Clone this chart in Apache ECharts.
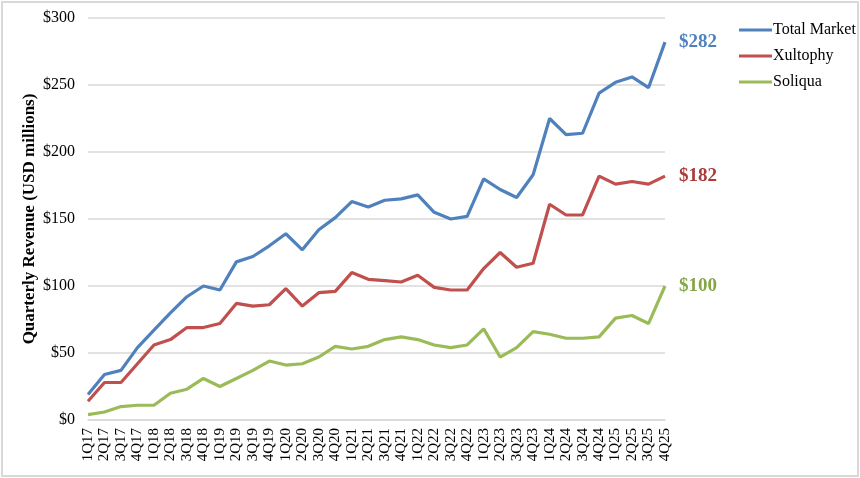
<!DOCTYPE html>
<html>
<head>
<meta charset="utf-8">
<script src="https://cdn.jsdelivr.net/npm/echarts@6/dist/echarts.min.js"></script>
<style>
  html, body { margin: 0; padding: 0; background: #fff; }
  #frame { position: absolute; left: 1px; top: 1px; width: 854px; height: 472px; border: 2px solid #d9d9d9; }
  #chart { position: absolute; left: 0; top: 0; width: 860px; height: 478px; }
</style>
</head>
<body>
<div id="frame"></div>
<div id="chart"></div>
<script>
// 季度
var quarters = ['1Q17','2Q17','3Q17','4Q17','1Q18','2Q18','3Q18','4Q18','1Q19','2Q19','3Q19','4Q19',
    '1Q20','2Q20','3Q20','4Q20','1Q21','2Q21','3Q21','4Q21','1Q22','2Q22','3Q22','4Q22',
    '1Q23','2Q23','3Q23','4Q23','1Q24','2Q24','3Q24','4Q24','1Q25','2Q25','3Q25','4Q25'];

var totalMarket = [19, 34, 37, 54, 67, 80, 92, 100, 97, 118, 122, 130,
    139, 127, 142, 151, 163, 159, 164, 165, 168, 155, 150, 152,
    180, 172, 166, 183, 225, 213, 214, 244, 252, 256, 248, 282];

var xultophy = [14, 28, 28, 42, 56, 60, 69, 69, 72, 87, 85, 86,
    98, 85, 95, 96, 110, 105, 104, 103, 108, 99, 97, 97,
    113, 125, 114, 117, 161, 153, 153, 182, 176, 178, 176, 182];

var soliqua = [4, 6, 10, 11, 11, 20, 23, 31, 25, 31, 37, 44,
    41, 42, 47, 55, 53, 55, 60, 62, 60, 56, 54, 56,
    68, 47, 54, 66, 64, 61, 61, 62, 76, 78, 72, 100];

var seriesNames = ['Total Market', 'Xultophy', 'Soliqua'];
var yTicks = [0, 50, 100, 150, 200, 250, 300];

var myChart = echarts.init(document.getElementById('chart'));

function lineSeries(name, data, color, labelColor) {
    return {
        name: name,
        type: 'line',
        data: data,
        symbol: 'none',
        lineStyle: { color: color, width: 3.2 },
        itemStyle: { color: color },
        endLabel: {
            show: true,
            formatter: '${c}',
            color: labelColor,
            fontFamily: 'Liberation Serif',
            fontWeight: 'bold',
            fontSize: 19,
            distance: 14
        },
        animation: false
    };
}

var option = {
    color: ['#4f81bd', '#c0504d', '#9bbb59'],
    grid: { left: 88, right: 195, top: 18, bottom: 58 },
    legend: {
        data: seriesNames,
        orient: 'vertical',
        left: 734,
        top: 17,
        itemWidth: 33,
        itemHeight: 3,
        itemGap: 10,
        icon: 'rect',
        textStyle: { fontFamily: 'Liberation Serif', fontSize: 16, color: '#000', padding: [0, 0, 0, -4] }
    },
    xAxis: {
        type: 'category',
        data: quarters,
        boundaryGap: false,
        axisTick: { show: false },
        axisLine: { lineStyle: { color: '#d9d9d9', width: 1.5 } },
        axisLabel: {
            rotate: 90,
            interval: 0,
            margin: 8,
            color: '#000',
            fontFamily: 'Liberation Serif',
            fontSize: 15
        }
    },
    yAxis: {
        type: 'value',
        min: yTicks[0],
        max: yTicks[yTicks.length - 1],
        interval: 50,
        name: 'Quarterly Revenue (USD millions)',
        nameLocation: 'middle',
        nameGap: 50,
        nameMoveOverlap: false,
        nameTextStyle: { fontFamily: 'Liberation Serif', fontWeight: 'bold', fontSize: 17, color: '#000' },
        axisLine: { show: false },
        axisTick: { show: false },
        axisLabel: {
            formatter: '${value}',
            color: '#000',
            fontFamily: 'Liberation Serif',
            fontSize: 16,
            margin: 13
        },
        splitLine: { lineStyle: { color: '#d9d9d9', width: 1.5 } }
    },
    series: [
        lineSeries(seriesNames[0], totalMarket, '#4f81bd', '#4f81bd'),
        lineSeries(seriesNames[1], xultophy, '#c0504d', '#a83a3a'),
        lineSeries(seriesNames[2], soliqua, '#9bbb59', '#84a646')
    ]
};

myChart.setOption(option);
</script>
</body>
</html>
